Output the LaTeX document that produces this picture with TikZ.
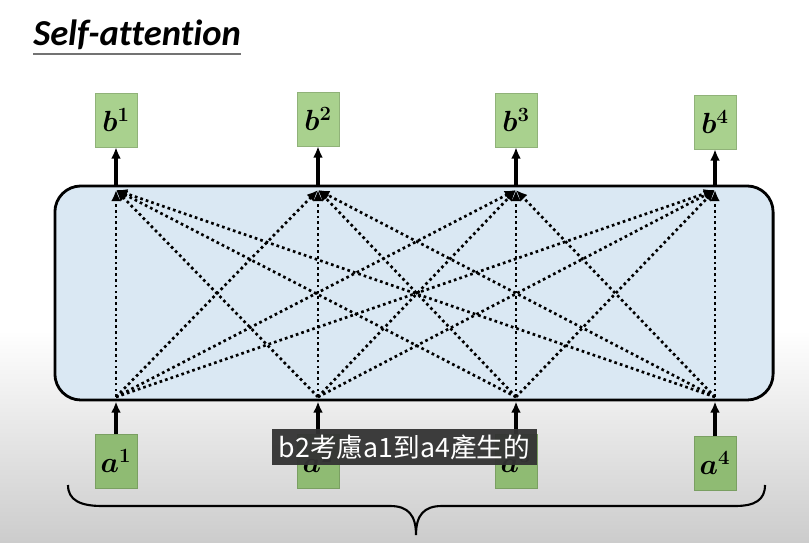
\documentclass[tikz,border=0pt]{standalone}
\usepackage{amsmath,bm}
\usepackage{fontspec}
\usetikzlibrary{arrows.meta,positioning,calc}
\newfontfamily\titlefont[Ligatures=NoCommon]{Carlito}
\newfontfamily\cjkfont{Noto Sans CJK TC}
\definecolor{outGreen}{HTML}{A9D18E}
\definecolor{inGreen}{HTML}{8FBB73}
\definecolor{panelBlue}{HTML}{DAE8F3}
\definecolor{subBg}{HTML}{333333}

\begin{document}
\begin{tikzpicture}[x=0.025cm,y=-0.025cm,
  vec/.style={draw=#1!85!black, fill=#1, minimum width=1.05cm, minimum height=1.35cm,
    inner sep=0pt, font=\fontsize{21}{23}\selectfont},
  link/.style={dash pattern=on 1.9pt off 2.2pt, line width=1.9pt, -{Latex[length=8pt,width=7pt]}},
  feed/.style={line width=2.2pt, -{Latex[length=8pt,width=7pt]}}]
\useasboundingbox (0,0) rectangle (809,543);
% frame background
\fill[white] (0,0) rectangle (809,330);
\shade[top color=white, bottom color=black!20] (0,330) rectangle (809,543);

\node[anchor=base west, inner sep=0pt, font=\titlefont\bfseries\itshape\fontsize{26}{30}\selectfont] (title) at (33,46) {Self-attention};
\draw[black!55, line width=1pt] ($(title.base west)+(0,8)$) -- ($(title.base east)+(0,8)$);

% self-attention layer
\node[draw, line width=2pt, fill=panelBlue, rounded corners=0.65cm,
  minimum width=17.95cm, minimum height=5.35cm] (panel) at (414,293) {};

\foreach \i/\x/\yb/\ya in {1/116/120/461, 2/318/119/461, 3/516/120/461, 4/715/122/463}{
  \node[vec=outGreen] (b\i) at (\x,\yb) {$\bm{b}^{\bm{\i}}$};
  \node[vec=inGreen] (a\i) at (\x,\ya) {$\bm{a}^{\bm{\i}}$};
  \coordinate (top\i) at (\x,190);
  \coordinate (bot\i) at (\x,397);
  \draw[feed] (panel.north -| b\i) -- (b\i.south);
  \draw[feed] (a\i.north) -- (a\i |- panel.south);
}
\foreach \i in {1,...,4}
  \foreach \j in {1,...,4}
    \draw[link] (bot\i) -- (top\j);

% brace under the inputs
\coordinate (brL) at (68,485);
\coordinate (brR) at (765,485);
\coordinate (brTip) at (416,535);
\draw[line width=1.5pt] (brL) .. controls (68,500) and (80,506) .. (102,506) -- (390,506)
  .. controls (408,506) and (416,515) .. (brTip)
  .. controls (416,515) and (424,506) .. (442,506) -- (735,506)
  .. controls (755,506) and (765,500) .. (brR);

% subtitle
\node[fill=subBg, fill opacity=0.95, text opacity=1, text=white, inner sep=0pt,
  minimum width=6.625cm, minimum height=0.9cm, font=\cjkfont\fontsize{19}{21}\selectfont]
  (sub) at (404.5,447) {b2考慮a1到a4產生的};
\end{tikzpicture}
\end{document}
